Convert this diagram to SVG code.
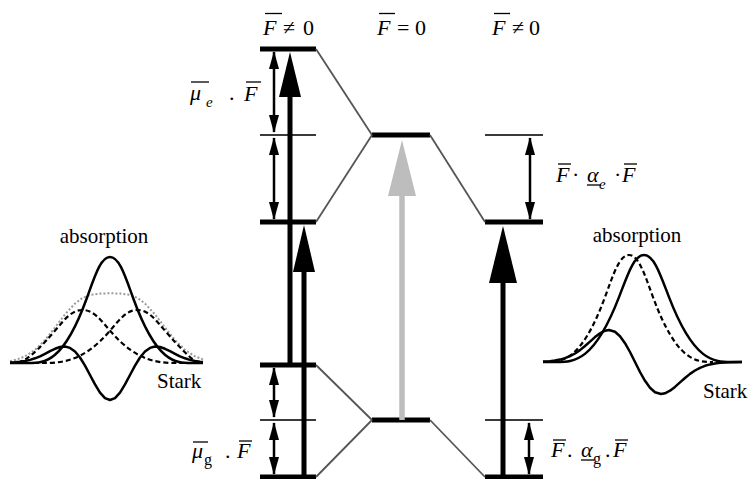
<svg xmlns="http://www.w3.org/2000/svg" width="748" height="479" viewBox="0 0 748 479" font-family="'Liberation Serif', serif">
<style>
text{font-family:'Liberation Serif',serif;fill:#000}
.it{font-style:italic}
.lbl{font-size:22px}
.sub{font-size:15px}
.cap{font-size:21px}
.lvl{stroke:#000;stroke-width:5;fill:none}
.thin{stroke:#3a3a3a;stroke-width:2.2;fill:none}
.diag{stroke:#555;stroke-width:1.8;fill:none}
.bar{stroke:#000;stroke-width:1.3}
.shaft{stroke:#000;stroke-width:5}
.head{fill:#000}
.gshaft{stroke:#bdbdbd;stroke-width:5.5}
.ghead{fill:#bdbdbd}
.dbl{stroke:#000;stroke-width:2.5}
.sol{stroke:#000;stroke-width:2.5;fill:none;stroke-linejoin:round}
.dash{stroke:#000;stroke-width:2.2;fill:none;stroke-dasharray:5 3}
.dot{stroke:#9a9a9a;stroke-width:2;fill:none;stroke-dasharray:2 2}
</style>
<defs>
<marker id="hd" viewBox="0 0 18 10" refX="17" refY="5" markerWidth="18" markerHeight="10" markerUnits="userSpaceOnUse" orient="auto-start-reverse"><path d="M0,0L18,5L0,10z" fill="#000"/></marker>
</defs>

<!-- column headers -->
<g id="hdr-left">
<text class="lbl" y="35"><tspan class="it" x="263">F</tspan><tspan x="283">≠</tspan><tspan x="303">0</tspan></text>
<line class="bar" x1="265" y1="13.5" x2="282" y2="13.5"/>
</g>
<g id="hdr-mid">
<text class="lbl" y="35"><tspan class="it" x="377">F</tspan><tspan x="397">=</tspan><tspan x="415">0</tspan></text>
<line class="bar" x1="379" y1="13.5" x2="395" y2="13.5"/>
</g>
<g id="hdr-right">
<text class="lbl" y="35"><tspan class="it" x="492">F</tspan><tspan x="512">≠</tspan><tspan x="529">0</tspan></text>
<line class="bar" x1="494" y1="13.5" x2="510" y2="13.5"/>
</g>

<!-- energy levels -->
<g id="lvl-left-e-up"><line class="lvl" x1="260" y1="49" x2="316" y2="49"/></g>
<g id="lvl-left-e-ref"><line class="thin" x1="260" y1="135" x2="316" y2="135"/></g>
<g id="lvl-left-e-down"><line class="lvl" x1="260" y1="222" x2="316" y2="222"/></g>
<g id="lvl-left-g-up"><line class="lvl" x1="260" y1="365" x2="316" y2="365"/></g>
<g id="lvl-left-g-ref"><line class="thin" x1="260" y1="420" x2="316" y2="420"/></g>
<g id="lvl-left-g-down"><line class="lvl" x1="260" y1="477" x2="316" y2="477"/></g>
<g id="lvl-mid-e"><line class="lvl" x1="372" y1="135" x2="430" y2="135"/></g>
<g id="lvl-mid-g"><line class="lvl" x1="372" y1="420" x2="430" y2="420"/></g>
<g id="lvl-right-e-ref"><line class="thin" x1="485" y1="135" x2="543" y2="135"/></g>
<g id="lvl-right-e"><line class="lvl" x1="485" y1="222" x2="543" y2="222"/></g>
<g id="lvl-right-g-ref"><line class="thin" x1="485" y1="420" x2="543" y2="420"/></g>
<g id="lvl-right-g"><line class="lvl" x1="485" y1="477" x2="543" y2="477"/></g>

<!-- connectors -->
<g id="connectors">
<line class="diag" x1="316" y1="49" x2="372" y2="135"/>
<line class="diag" x1="316" y1="222" x2="372" y2="135"/>
<line class="diag" x1="430" y1="135" x2="485" y2="222"/>
<line class="diag" x1="316" y1="365" x2="372" y2="420"/>
<line class="diag" x1="316" y1="477" x2="372" y2="420"/>
<line class="diag" x1="430" y1="420" x2="485" y2="477"/>

<line class="shaft" x1="290" y1="365" x2="290" y2="92"/>
<polygon class="head" points="290,52 279,97 301,97"/>
<line class="shaft" x1="304" y1="477" x2="304" y2="267"/>
<polygon class="head" points="304,225 293,272 315,272"/>
<line class="gshaft" x1="402" y1="420" x2="402" y2="190"/>
<polygon class="ghead" points="402,140 388,196 416,196"/>
<line class="shaft" x1="503" y1="477" x2="503" y2="278"/>
<polygon class="head" points="503,226 489,283 517,283"/>

<line class="dbl" x1="274" y1="52" x2="274" y2="132" marker-start="url(#hd)" marker-end="url(#hd)"/>
<line class="dbl" x1="274" y1="138" x2="274" y2="219" marker-start="url(#hd)" marker-end="url(#hd)"/>
<line class="dbl" x1="274" y1="368" x2="274" y2="417" marker-start="url(#hd)" marker-end="url(#hd)"/>
<line class="dbl" x1="274" y1="423" x2="274" y2="474" marker-start="url(#hd)" marker-end="url(#hd)"/>
<line class="dbl" x1="530" y1="138" x2="530" y2="219" marker-start="url(#hd)" marker-end="url(#hd)"/>
<line class="dbl" x1="529" y1="423" x2="529" y2="474" marker-start="url(#hd)" marker-end="url(#hd)"/>
</g>

<!-- term labels -->
<g id="lbl-mu-e">
<text class="lbl it" x="190" y="100" font-size="24">μ</text>
<text class="sub it" x="206" y="107">e</text>
<text class="lbl" x="229" y="100">.</text>
<text class="lbl it" x="244" y="101">F</text>
<line class="bar" x1="191" y1="82" x2="209" y2="82"/>
<line class="bar" x1="246" y1="82" x2="261" y2="82"/>
</g>
<g id="lbl-mu-g">
<text class="lbl it" x="192" y="458" font-size="24">μ</text>
<text x="204" y="465" font-size="16">g</text>
<text class="lbl" x="225" y="458">.</text>
<text class="lbl it" x="237" y="458">F</text>
<line class="bar" x1="193" y1="442" x2="208" y2="442"/>
<line class="bar" x1="239" y1="441" x2="252" y2="441"/>
</g>
<g id="lbl-alpha-e">
<text class="lbl it" x="556" y="182">F</text>
<text class="lbl" x="572" y="182">·</text>
<text class="lbl it" x="587" y="182">α</text>
<text class="sub it" x="599" y="189">e</text>
<text class="lbl" x="614" y="182">·</text>
<text class="lbl it" x="622" y="182">F</text>
<line class="bar" x1="558" y1="164" x2="571" y2="164"/>
<line class="bar" x1="624" y1="164" x2="637" y2="164"/>
<line class="bar" x1="587" y1="185" x2="601" y2="185"/>
</g>
<g id="lbl-alpha-g">
<text class="lbl it" x="551" y="457">F</text>
<text class="lbl" x="567" y="457">.</text>
<text class="lbl it" x="581" y="457">α</text>
<text x="593" y="464" font-size="16">g</text>
<text class="lbl" x="605" y="457">.</text>
<text class="lbl it" x="613" y="457">F</text>
<line class="bar" x1="553" y1="440" x2="566" y2="440"/>
<line class="bar" x1="615" y1="440" x2="628" y2="440"/>
<line class="bar" x1="581" y1="460" x2="594" y2="460"/>
</g>

<!-- left spectrum -->
<g id="spec-left">
<text class="cap" x="104" y="243" text-anchor="middle">absorption</text>
<text class="cap" x="157" y="388">Stark</text>
<path class="dot" d="M10,361.2 L17,359.4 L25,356.4 L35,349.9 L45,340.1 L55,327.5 L65,314.4 L75,303.5 L82.5,297.9 L90,294.9 L100,293.6 L110,293.2 L120,293.6 L130,294.9 L137.5,297.9 L145,303.5 L155,314.4 L165,327.5 L175,340.1 L185,349.9 L195,356.4 L203,359.4"/>
<path class="dash" d="M10,363 C20,363 27.3,363 54.9,330.8 C64.6,319.6 71.5,310 82.5,310 C93.5,310 100.4,319.6 110.1,330.8 C137.7,363 159.8,363 179.1,363 L203,363"/>
<path class="dash" d="M10,363 L40.9,363 C60.2,363 82.3,363 109.9,330.8 C119.6,319.6 126.5,310 137.5,310 C148.5,310 155.4,319.6 165.1,330.8 C192.7,363 198,363 203,363"/>
<path class="sol" d="M10,363 L28.1,363 C44.5,363 63.2,363 86.6,298.7 C94.8,276.2 100.6,257 110,257 C119.4,257 125.2,276.2 133.4,298.7 C156.8,363 175.5,363 191.9,363 L203,363"/>
<path class="sol" d="M10,362.6 L15,362.3 L20,361.8 L25,361 L30,359.9 L35,358.3 L40,356.3 L45,353.8 L50,351.2 L55,348.8 L60,347 L65,346.5 L70,347.9 L75,351.5 L80,357.5 L85,365.6 L90,375 L95,384.4 L100,392.6 L105,398.1 L110,400 L115,398.1 L120,392.6 L125,384.4 L130,375 L135,365.6 L140,357.5 L145,351.5 L150,347.9 L155,346.5 L160,347 L165,348.8 L170,351.2 L175,353.8 L180,356.3 L185,358.3 L190,359.9 L195,361 L200,361.8 L203,362.1"/>
</g>

<!-- right spectrum -->
<g id="spec-right">
<text class="cap" x="637" y="242" text-anchor="middle">absorption</text>
<text class="cap" x="703" y="398">Stark</text>
<path class="dash" d="M545,362 C561.8,362 581,362 605,297.1 C613.4,274.4 619.4,255 629,255 C638.6,255 644.6,274.4 653,297.1 C677,362 696.2,362 713,362"/>
<path class="sol" d="M543,362 L556.5,362 C574,362 594,362 619,297.1 C627.75,274.4 634,255 644,255 C654,255 660.25,274.4 669,297.1 C694,362 714,362 731.5,362 L742,362"/>
<path class="sol" d="M543,361.6 L550,361.2 L555,360.6 L560,359.6 L565,358.2 L570,356.2 L575,353.5 L580,350.1 L585,346 L590,341.6 L595,337.1 L600,333.3 L605,330.7 L609,330 L615,331.8 L620,336.2 L625,343.2 L630,352 L635,362 L640,372 L645,380.8 L650,387.8 L655,392.2 L661,394 L665,393.3 L670,390.7 L675,386.9 L680,382.4 L685,378 L690,373.9 L695,370.5 L700,367.8 L705,365.8 L710,364.4 L715,363.4 L720,362.8 L725,362.5 L730,362.2 L742,362"/>
</g>
</svg>
